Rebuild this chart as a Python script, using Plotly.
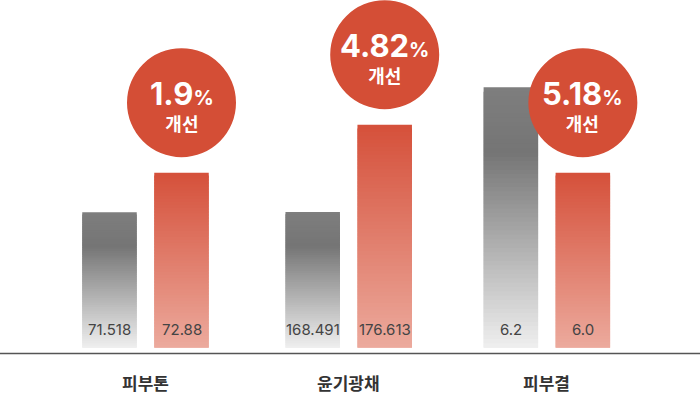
import plotly.graph_objects as go

# ---- data ----
groups = ["피부톤", "윤기광채", "피부결"]
series = ["before", "after"]
before_values = [71.518, 168.491, 6.2]
after_values = [72.88, 176.613, 6.0]
before_labels = ["71.518", "168.491", "6.2"]
after_labels = ["72.88", "176.613", "6.0"]
improvement = ["1.9", "4.82", "5.18"]
improvement_word = "개선"

# ---- layout parameters (per-group display scales) ----
W, H = 700, 397
group_centers = [145.5, 348.7, 546.85]   # px, centre between the two bars
CAT_PX = 72                               # px per category slot
y_ranges = [(66.86, 78.82), (155.87, 188.21), (5.590, 6.4045)]
y_dom_bottom = (H - 347.7) / H
N_SEG = 60

GRAY_STOPS = [(0.0, (126, 126, 126)), (0.25, (117, 117, 117)), (1.0, (239, 239, 239))]
RED_STOPS = [(0.0, (213, 80, 58)), (1.0, (236, 170, 157))]
CIRCLE = "#d44e36"


def interp(stops, t):
    for (t0, c0), (t1, c1) in zip(stops[:-1], stops[1:]):
        if t <= t1:
            f = 0 if t1 == t0 else (t - t0) / (t1 - t0)
            return "rgb(%d,%d,%d)" % tuple(round(a + (b - a) * f) for a, b in zip(c0, c1))
    return "rgb(%d,%d,%d)" % stops[-1][1]


fig = go.Figure()
layout = dict(
    width=W, height=H, margin=dict(l=0, r=0, t=0, b=0),
    paper_bgcolor="white", plot_bgcolor="rgba(0,0,0,0)",
    showlegend=False, bargap=0.243, barmode="overlay",
)
shapes = []
annotations = []

for g in range(3):
    xa = "x" if g == 0 else f"x{g+1}"
    ya = "y" if g == 0 else f"y{g+1}"
    base0 = y_ranges[g][0]
    for s, (val, stops) in enumerate([(before_values[g], GRAY_STOPS), (after_values[g], RED_STOPS)]):
        h = (val - base0) / N_SEG
        xs, bases, ys, cols = [], [], [], []
        # draw from top segment downwards; each segment overlaps the one below
        for i in reversed(range(N_SEG)):
            lo = base0 + (i - 1) * h if i > 0 else base0 - h
            hi = base0 + (i + 1) * h
            xs.append(series[s])
            bases.append(lo)
            ys.append(hi - lo)
            t = 1 - (i + 0.5) / N_SEG  # 0 at top, 1 at bottom
            cols.append(interp(stops, t))
        fig.add_trace(go.Bar(
            x=xs, y=ys, base=bases, xaxis=xa, yaxis=ya,
            marker=dict(color=cols, line=dict(width=0)),
            hoverinfo="skip",
        ))
    # value labels
    for s, lab in enumerate([before_labels[g], after_labels[g]]):
        annotations.append(dict(
            x=series[s], xref=xa, y=0, yref=f"{ya} domain",
            text=lab, showarrow=False, yanchor="middle", yshift=18.5,
            font=dict(family="Inter, Noto Sans, sans-serif", size=15, color="#444444"),
        ))
    # improvement circle
    shapes.append(dict(
        type="circle", xref=xa, yref=ya,
        xsizemode="pixel", ysizemode="pixel",
        xanchor=1, yanchor=after_values[g],
        x0=-54.5, x1=54.5, y0=15.5, y1=124.5,
        fillcolor=CIRCLE, line=dict(width=0), layer="above",
    ))
    annotations.append(dict(
        x=series[1], xref=xa, y=after_values[g], yref=ya,
        text=(f"<span style='font-size:31px'><b>{improvement[g]}</b></span><b>%</b>"
              f"<br><span style='font-size:18px'><b>{improvement_word}</b></span>"),
        showarrow=False, yanchor="middle", yshift=68,
        font=dict(family="Inter, Noto Sans CJK KR, sans-serif", size=20, color="white"),
    ))
    # category label
    annotations.append(dict(
        x=0.5, xref=f"{xa} domain", y=15 / H, yref="paper",
        text=f"<b>{groups[g]}</b>", showarrow=False, yanchor="middle",
        font=dict(family="Noto Sans CJK KR, sans-serif", size=17, color="#333333"),
    ))
    c = group_centers[g]
    d0, d1 = c - 2 * CAT_PX, c + 2 * CAT_PX
    layout["xaxis" if g == 0 else f"xaxis{g+1}"] = dict(
        domain=[d0 / W, d1 / W], anchor=ya, type="category",
        categoryorder="array", categoryarray=series, range=[-1.5, 2.5],
        showticklabels=False, showgrid=False, zeroline=False, showline=False, ticks="",
    )
    layout["yaxis" if g == 0 else f"yaxis{g+1}"] = dict(
        domain=[y_dom_bottom, 1], anchor=xa, range=list(y_ranges[g]),
        showticklabels=False, showgrid=False, zeroline=False, showline=False, ticks="",
    )

# baseline
shapes.append(dict(
    type="line", xref="paper", yref="paper", x0=0, x1=1,
    y0=(H - 353.5) / H, y1=(H - 353.5) / H,
    line=dict(color="#555555", width=1.3),
))

layout["shapes"] = shapes
layout["annotations"] = annotations
fig.update_layout(**layout)
fig.write_html(
    "out.html",
    config={"displayModeBar": False},
    post_script="document.body.style.margin='0';document.body.style.overflow='hidden';",
)
